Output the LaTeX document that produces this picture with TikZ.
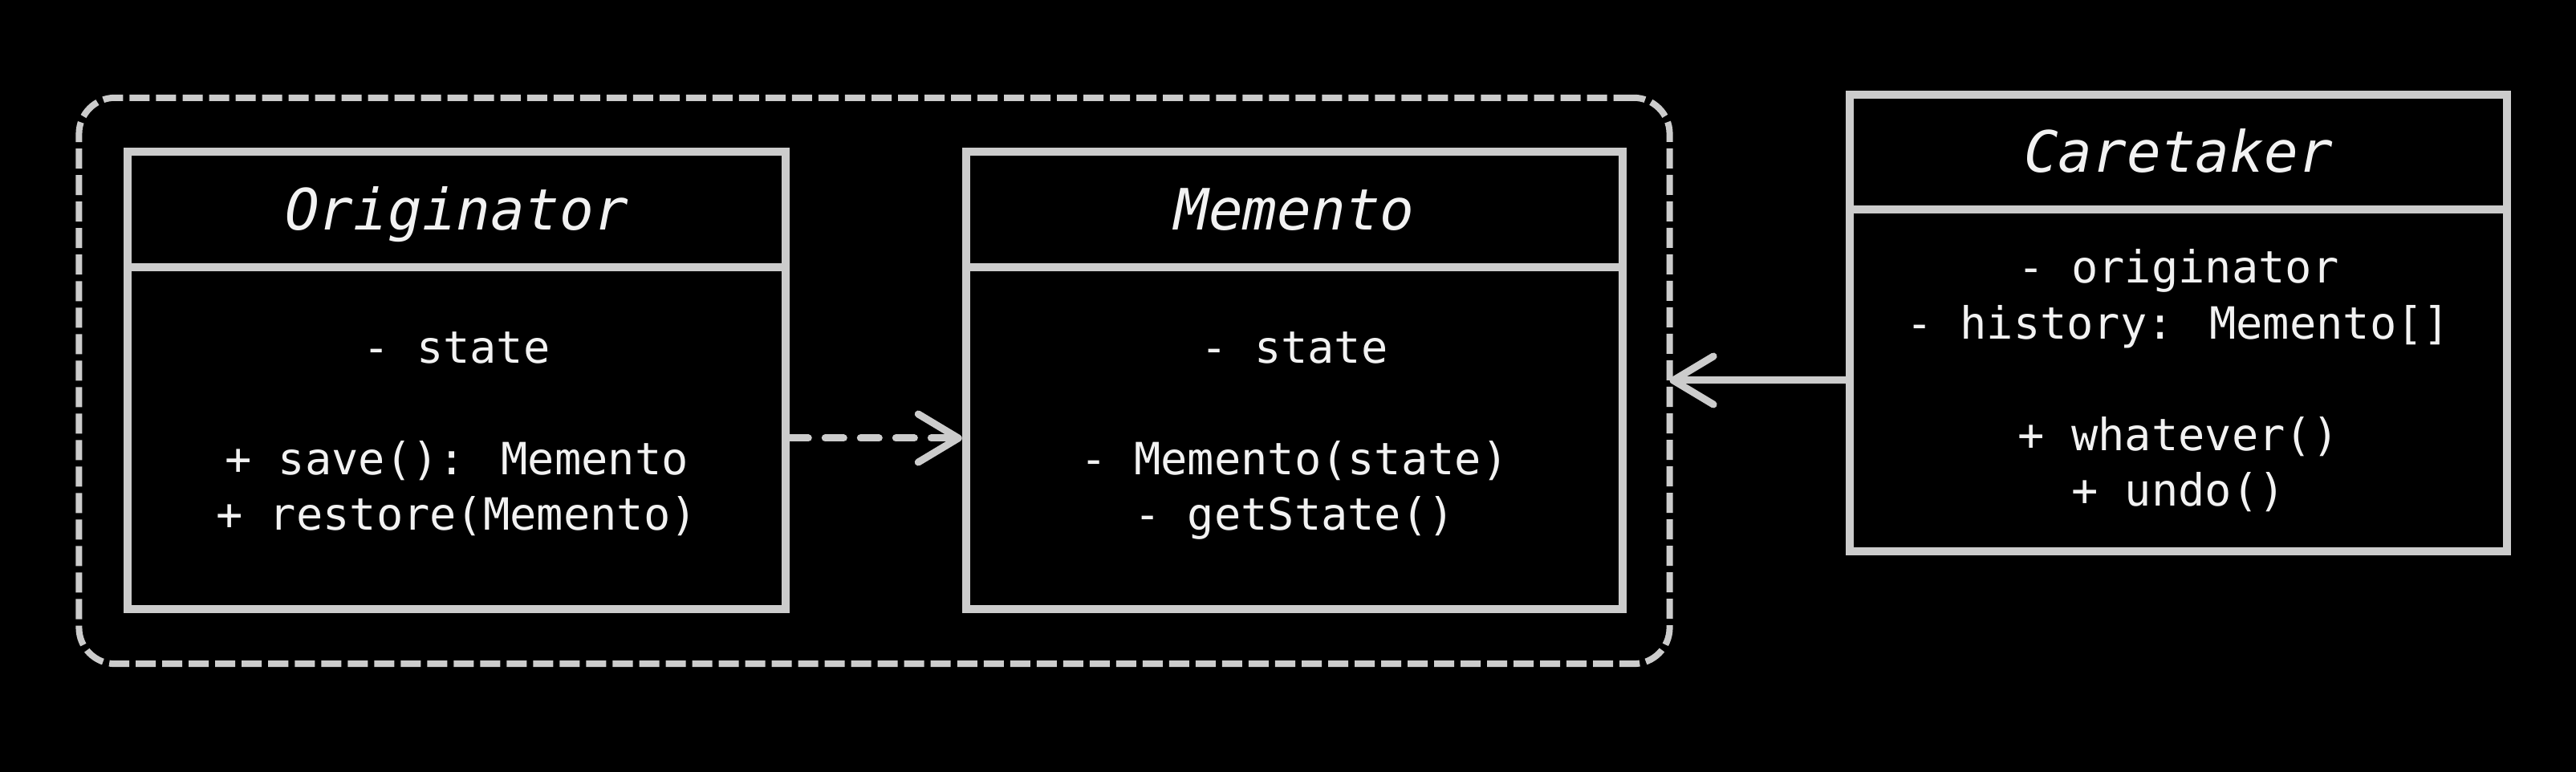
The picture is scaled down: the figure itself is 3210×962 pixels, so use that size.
\documentclass[tikz,border=0pt]{standalone}
\usepackage{fontspec}
\newfontfamily\umlfont{DejaVu Sans Mono}
\usetikzlibrary{arrows.meta}
\definecolor{linegray}{RGB}{204,204,204}
\definecolor{textwhite}{RGB}{242,242,242}
\tikzset{
  compart/.style={draw=linegray, line width=0.1cm, inner sep=0pt, rectangle},
  titletext/.style={text=textwhite, inner sep=0pt, font=\umlfont\itshape\fontsize{20.2pt}{24pt}\selectfont},
  bodytext/.style={text=textwhite, inner sep=0pt, align=center, font=\umlfont\fontsize{15.74pt}{19.77pt}\selectfont},
  groupbox/.style={draw=linegray, line width=0.08cm, rounded corners=0.45cm, dash pattern=on 0.25cm off 0.08cm, inner sep=0pt, outer sep=0pt, rectangle},
  assoc/.style={draw=linegray, line width=0.09cm, line cap=round, -{Straight Barb[length=0.5cm, width=0.6cm, round]}},
  depend/.style={assoc, dash pattern=on 0.23cm off 0.21cm},
}
\begin{document}
\begin{tikzpicture}[x=0.01cm, y=-0.01cm]
\fill[black] (0,0) rectangle (3210,962);
\useasboundingbox (0,0) rectangle (3210,962);

% group
\node[groupbox, minimum width=19.81cm, minimum height=7.05cm] (group) at (1089.5,474.5) {};

% Originator
\node[compart, minimum width=8.20cm, minimum height=1.44cm] (ohead) at (569,261) {};
\node[compart, minimum width=8.20cm, minimum height=4.26cm] (obody) at (569,546) {};
\node[titletext, anchor=base] (otitle) at (569,287) {Originator};
\node[bodytext, anchor=base] (otext) at (569,661) {- state\\[0.695cm]+ save(): Memento\\+ restore(Memento)};

% Memento
\node[compart, minimum width=8.18cm, minimum height=1.44cm] (mhead) at (1613,261) {};
\node[compart, minimum width=8.18cm, minimum height=4.26cm] (mbody) at (1613,546) {};
\node[titletext, anchor=base] (mtitle) at (1613,287) {Memento};
\node[bodytext, anchor=base] (mtext) at (1613,661) {- state\\[0.695cm]- Memento(state)\\- getState()};

% Caretaker
\node[compart, minimum width=8.19cm, minimum height=1.43cm] (chead) at (2714.5,189.5) {};
\node[compart, minimum width=8.19cm, minimum height=4.26cm] (cbody) at (2714.5,474) {};
\node[titletext, anchor=base] (ctitle) at (2714.5,215) {Caretaker};
\node[bodytext, anchor=base] (ctext) at (2714.5,631) {- originator\\- history: Memento[]\\[0.695cm]+ whatever()\\+ undo()};

% connectors
\draw[depend] (obody.east) -- (mbody.west);
\draw[assoc] (cbody.west) -- (cbody.west -| group.east);
\end{tikzpicture}
\end{document}
